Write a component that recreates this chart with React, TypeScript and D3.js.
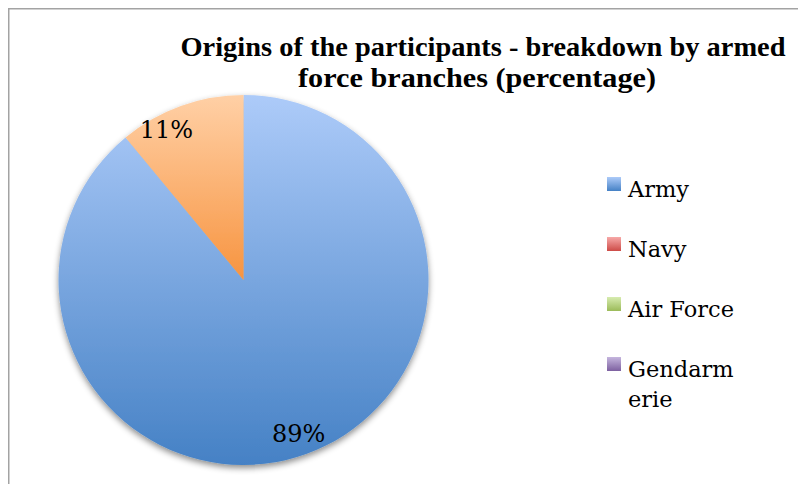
import React from "react";
import * as d3 from "d3";

const categories = ["Army", "Navy", "Air Force", "Gendarmerie", "Other"];
const values = [89, 0, 0, 0, 11];
const legendLabels = [["Army"], ["Navy"], ["Air Force"], ["Gendarm", "erie"]];
const titleLines = ["Origins of the participants - breakdown by armed", "force branches (percentage)"];

const gradTop = ["#adcbf9", "#f7a9a8", "#d7ecb0", "#c5b6de", "#a8dcea", "#ffd0a6"];
const gradBottom = ["#4581c5", "#cd4b47", "#9bbb59", "#7d60a0", "#3fa1bd", "#f79440"];
const sliceColorIndex = [0, 1, 2, 3, 5];

export default function App() {
  const W = 798, H = 484;
  const cx = 243.5, cy = 280, r = 185;
  const pie = d3.pie<number>().sort(null).value((d) => d)(values);
  const arc = d3.arc<d3.PieArcDatum<number>>().innerRadius(0).outerRadius(r);
  const labelArc = d3.arc<d3.PieArcDatum<number>>().innerRadius(r * 0.88).outerRadius(r * 0.88);
  const legendY = d3.scaleLinear().domain([0, 1]).range([185, 245]);

  return (
    <svg width={W} height={H} style={{ position: "absolute", left: 0, top: 0, background: "#fff" }}>
      <defs>
        {gradTop.map((c, i) => (
          <linearGradient key={i} id={`g${i}`} x1="0" y1="0" x2="0" y2="1">
            <stop offset="0" stopColor={c} />
            <stop offset="1" stopColor={gradBottom[i]} />
          </linearGradient>
        ))}
        <filter id="sh" x="-20%" y="-20%" width="140%" height="140%">
          <feDropShadow dx="0" dy="3" stdDeviation="3" floodColor="#000" floodOpacity="0.45" />
        </filter>
      </defs>
      <rect x={0} y={0} width={W} height={H} fill="#fff" />
      <path d={`M8.75,${H + 5} L8.75,8.75 L${W + 5},8.75`} fill="none" stroke="#a3a3a3" strokeWidth={1.5} />

      {titleLines.map((t, i) => (
        <text
          key={i}
          x={i === 0 ? 483 : 477}
          y={56 + i * 31}
          textAnchor="middle"
          fontFamily="'Liberation Serif', serif"
          fontWeight="bold"
          fontSize={28}
          textLength={i === 0 ? 605 : 358}
          lengthAdjust="spacingAndGlyphs"
          fill="#000"
        >
          {t}
        </text>
      ))}

      <g transform={`translate(${cx},${cy})`} filter="url(#sh)">
        {pie.map((p, i) =>
          p.value > 0 ? (
            <path key={categories[i]} d={arc(p) || ""} fill={`url(#g${sliceColorIndex[i]})`} />
          ) : null
        )}
      </g>
      <g transform={`translate(${cx},${cy})`}>
        {pie.map((p, i) => {
          if (p.value <= 0) return null;
          const [lx, ly] = labelArc.centroid(p);
          const nudge = i === 4 ? -22 : 0;
          return (
            <text
              key={categories[i]}
              x={lx + nudge}
              y={ly + (i === 4 ? 3 : 0)}
              dy="0.36em"
              textAnchor="middle"
              fontFamily="'DejaVu Serif', serif"
              fontSize={24}
              fill="#000"
            >
              {`${values[i]}%`}
            </text>
          );
        })}
      </g>

      {legendLabels.map((lines, i) => {
        const y = legendY(i);
        return (
          <g key={i}>
            <rect x={607} y={y - 8} width={14} height={14} fill={`url(#g${i})`} />
            {lines.map((ln, j) => (
              <text
                key={j}
                x={628}
                y={y + 12 + j * 30}
                fontFamily="'DejaVu Serif', serif"
                fontSize={22.5}
                fill="#000"
              >
                {ln}
              </text>
            ))}
          </g>
        );
      })}
    </svg>
  );
}
